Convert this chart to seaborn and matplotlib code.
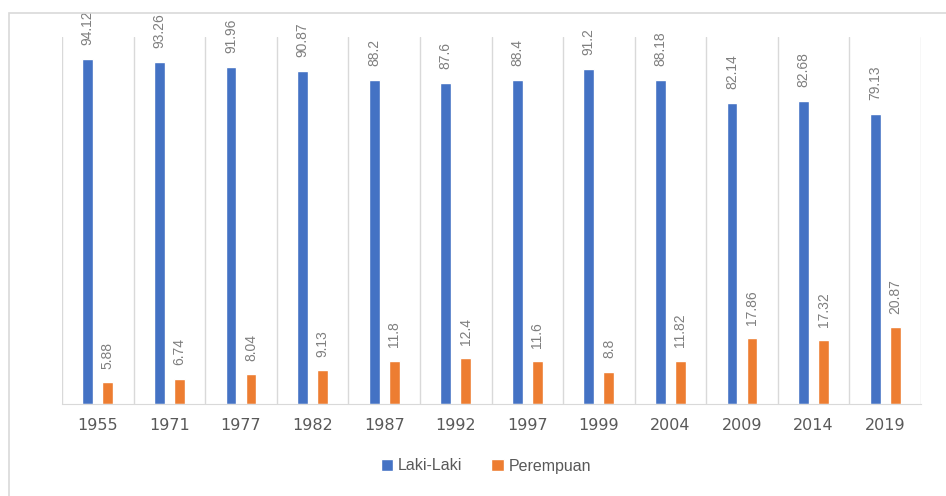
import pandas as pd
import matplotlib.pyplot as plt
import seaborn as sns
from matplotlib.patches import Rectangle

tahun = ["1955", "1971", "1977", "1982", "1987", "1992", "1997", "1999", "2004", "2009", "2014", "2019"]
laki_laki = [94.12, 93.26, 91.96, 90.87, 88.2, 87.6, 88.4, 91.2, 88.18, 82.14, 82.68, 79.13]
perempuan = [5.88, 6.74, 8.04, 9.13, 11.8, 12.4, 11.6, 8.8, 11.82, 17.86, 17.32, 20.87]
label_teks_l = ["94.12", "93.26", "91.96", "90.87", "88.2", "87.6", "88.4", "91.2", "88.18", "82.14", "82.68", "79.13"]
label_teks_p = ["5.88", "6.74", "8.04", "9.13", "11.8", "12.4", "11.6", "8.8", "11.82", "17.86", "17.32", "20.87"]

df = pd.DataFrame({
    "tahun": tahun * 2,
    "nilai": laki_laki + perempuan,
    "jenis": ["Laki-Laki"] * len(tahun) + ["Perempuan"] * len(tahun),
})

sns.set_style("white")
plt.rcParams["font.family"] = ["Liberation Sans", "DejaVu Sans"]

fig = plt.figure(figsize=(9.46, 4.96), dpi=100)
ax = fig.add_axes([62 / 946, 1 - 404 / 496, (921 - 62) / 946, (404 - 37) / 496])

# bingkai chart ala Excel
fig.patches.append(Rectangle((9 / 946, -0.1), 1.2, 0.1 + (496 - 13) / 496,
                             transform=fig.transFigure, fill=False,
                             edgecolor="#d9d9d9", linewidth=1.2))

sns.barplot(data=df, x="tahun", y="nilai", hue="jenis",
            palette=["#4472C4", "#ED7D31"], saturation=1,
            width=0.56, gap=0.46, ax=ax, legend=True)

ax.set_ylim(0, 100)
ax.set_xlim(-0.5, len(tahun) - 0.5)
ax.set_yticks([])
ax.set_xlabel("")
ax.set_ylabel("")

# garis pemisah kategori
ax.set_xticks([i + 0.5 for i in range(-1, len(tahun))], minor=True)
ax.grid(True, which="minor", axis="x", color="#d9d9d9", linewidth=1)
ax.tick_params(axis="x", which="both", length=0, pad=10)
for t in ax.get_xticklabels():
    t.set_fontsize(11.5)
    t.set_color("#595959")
    t.set_family("DejaVu Sans")

for s in ["top", "right", "left"]:
    ax.spines[s].set_visible(False)
ax.spines["bottom"].set_color("#d9d9d9")

# label data
for cont, teks in zip(ax.containers, [label_teks_l, label_teks_p]):
    for bar, t in zip(cont, teks):
        ax.annotate(t, (bar.get_x() + bar.get_width() / 2, bar.get_height()),
                    xytext=(0, 10), textcoords="offset points",
                    rotation=90, ha="center", va="bottom",
                    fontsize=10, color="#7f7f7f", annotation_clip=False)

ax.legend(loc="center", bbox_to_anchor=(486 / 946, 1 - 466 / 496),
          bbox_transform=fig.transFigure, ncol=2, frameon=False,
          handlelength=0.8, handleheight=0.8, handletextpad=0.3,
          columnspacing=1.8, prop={"size": 11.5}, labelcolor="#595959")

fig.savefig("out.png", dpi=100)
